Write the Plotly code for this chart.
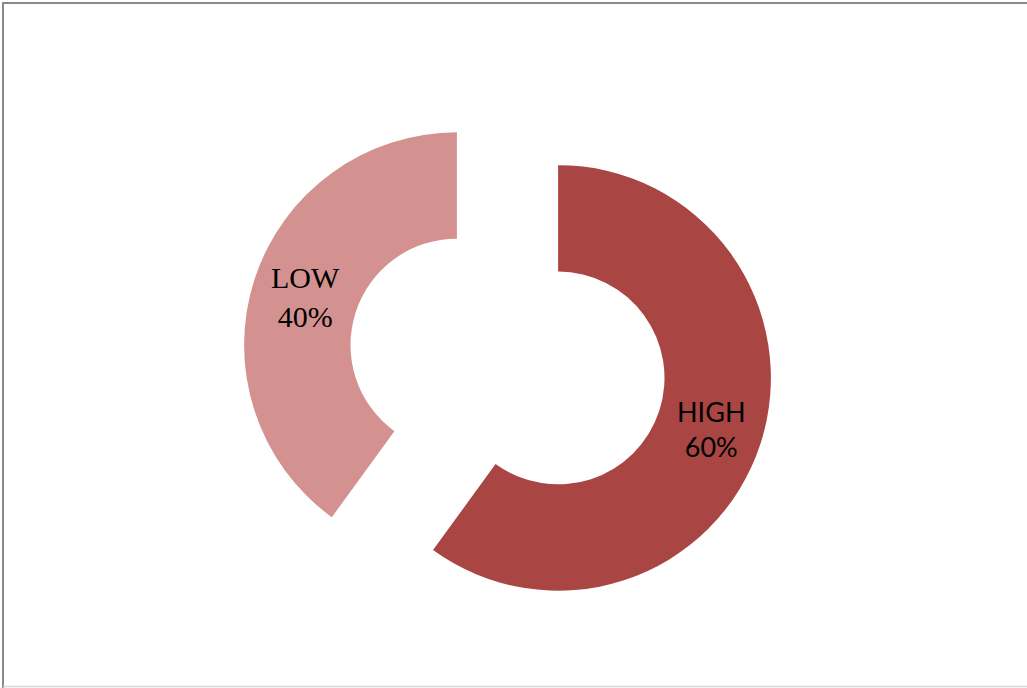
import plotly.graph_objects as go

# Share of responses by level
labels = ["HIGH", "LOW"]
values = [60, 40]
colors = ["#A94644", "#D39190"]

W, H = 1027, 688

fig = go.Figure(
    go.Pie(
        labels=labels,
        values=values,
        hole=0.5,
        pull=[0.25, 0.25],
        sort=False,
        direction="clockwise",
        rotation=0,
        marker=dict(colors=colors, line=dict(width=0)),
        textinfo="none",
        hoverinfo="label+percent",
        showlegend=False,
        domain=dict(x=[241.5 / W, 773.5 / W], y=[1 - 627.5 / H, 1 - 95.5 / H]),
    )
)

# Slice labels built from the same values
label_pos = {"HIGH": (711, 429), "LOW": (305, 297)}
label_font = {
    "HIGH": dict(family="Lato, Open Sans, sans-serif", size=27, color="#000000"),
    "LOW": dict(family="Liberation Serif, Times New Roman, serif", size=30, color="#000000"),
}
for lab, val in zip(labels, values):
    px, py = label_pos[lab]
    fig.add_annotation(
        x=px / W, y=1 - py / H, xref="paper", yref="paper",
        text=f"{lab}<br>{val}%", showarrow=False,
        font=label_font[lab], align="center",
        xanchor="center", yanchor="middle",
    )

# Frame lines around the chart area
fig.add_shape(type="line", xref="paper", yref="paper",
              x0=3 / W, x1=3 / W, y0=0, y1=1 - 2 / H,
              line=dict(color="#8a8a8a", width=2))
fig.add_shape(type="line", xref="paper", yref="paper",
              x0=2 / W, x1=1, y0=1 - 3 / H, y1=1 - 3 / H,
              line=dict(color="#8a8a8a", width=2))
fig.add_shape(type="line", xref="paper", yref="paper",
              x0=3 / W, x1=1, y0=1 - 686.5 / H, y1=1 - 686.5 / H,
              line=dict(color="#d8d8d8", width=1.5))

fig.update_layout(
    width=W, height=H,
    margin=dict(l=0, r=0, t=0, b=0),
    paper_bgcolor="white",
    plot_bgcolor="white",
)

fig.write_html("out.html")
